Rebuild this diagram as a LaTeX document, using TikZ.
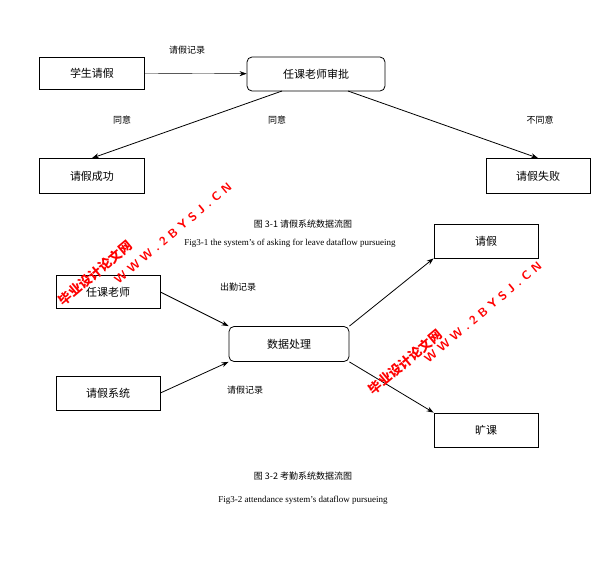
\documentclass[tikz,border=0pt]{standalone}
\usepackage{fontspec}
\setmainfont{Liberation Serif}
\newfontfamily\cjk{Noto Sans CJK SC}
\usetikzlibrary{arrows.meta}
\begin{document}
\begin{tikzpicture}[x=1pt,y=-1pt,
  box/.style={draw,thick,minimum height=32pt,inner sep=0pt,font=\cjk\fontsize{11}{11}\selectfont},
  rbox/.style={box,rounded corners=5pt},
  arr/.style={-{Stealth[length=7pt,width=5pt]},thick},
  lab/.style={font=\cjk\fontsize{9}{9}\selectfont},
  wm/.style={text=red,font=\cjk\bfseries\fontsize{13}{13}\selectfont,rotate=40}]
\useasboundingbox (0,0) rectangle (606,571);
\node[box,minimum width=105pt] (a) at (92,73) {学生请假};
\node[rbox,minimum width=138pt,minimum height=34pt] (b) at (316,74) {任课老师审批};
\node[box,minimum width=105pt,minimum height=35pt] (c) at (92,176) {请假成功};
\node[box,minimum width=104pt,minimum height=35pt] (d) at (538,176) {请假失败};
\draw[arr,thin] (a) -- (b);
\node[lab] (la) at (187,50) {请假记录};
\draw[arr] (282,91) coordinate (b1) -- (c.north);
\node[lab] (t0) at (122,120) {同意};
\node[lab] (t1) at (277,120) {同意};
\draw[arr] (348,91) coordinate (b2) -- (d.north);
\node[lab] (t2) at (540,120) {不同意};
\node[font=\cjk\fontsize{9}{9}\selectfont] (cap1) at (303,224) {图 3-1 请假系统数据流图};
\node[font=\fontsize{9}{9}\selectfont] (cap1e) at (290,243) {Fig3-1 the system's of asking for leave dataflow pursueing};
\node[box,minimum width=104pt,minimum height=34pt,fill=white] (e) at (486,241) {请假};
\node[box,minimum width=104pt,minimum height=33pt] (f) at (108,292) {任课老师};
\node[rbox,minimum width=120pt,minimum height=35pt] (g) at (289,344) {数据处理};
\node[box,minimum width=104pt,minimum height=34pt] (h) at (108,393) {请假系统};
\node[box,minimum width=104pt,minimum height=34pt] (i) at (486,430) {旷课};
\draw[arr] (f.east) -- (g.north west);
\node[lab] (l1) at (238,287) {出勤记录};
\draw[arr] (h.east) -- (g.south west);
\node[lab] (l2) at (245,390) {请假记录};
\draw[arr] (g.north east) -- (e.south west);
\draw[arr] (g.south east) -- (i.north west);
\node[font=\cjk\fontsize{9}{9}\selectfont] (cap2) at (303,476) {图 3-2 考勤系统数据流图};
\node[font=\fontsize{9}{9}\selectfont] (cap2e) at (303,500) {Fig3-2 attendance system's dataflow pursueing};
\node[wm] (w1) at (95,273) {毕业设计论文网};
\node[wm,font=\sffamily\bfseries\fontsize{12}{12}\selectfont] (w2) at (173,233) {W W W . 2 B Y S J . C N};
\node[wm] (w3) at (405,362) {毕业设计论文网};
\node[wm,font=\sffamily\bfseries\fontsize{12}{12}\selectfont] (w4) at (483,312) {W W W . 2 B Y S J . C N};
\end{tikzpicture}
\end{document}
